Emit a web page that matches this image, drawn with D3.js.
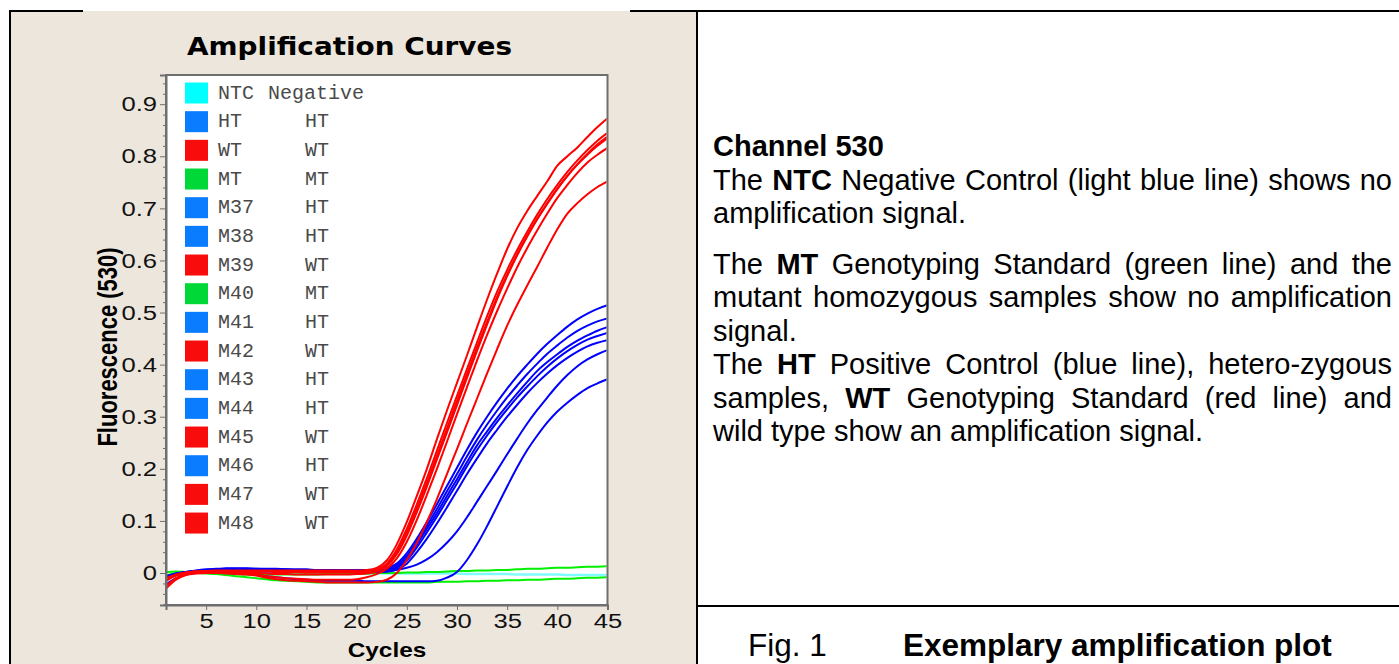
<!DOCTYPE html>
<html><head><meta charset="utf-8">
<script src="https://cdn.jsdelivr.net/npm/d3@7"></script>
<style>html,body{margin:0;padding:0;background:#fff;overflow:hidden}</style>
</head><body>
<svg id="c" width="1399" height="664"></svg>
<script>
// ---------------- DATA ----------------
const cycles = d3.range(1, 46);
const samples   = ["NTC","HT","WT","MT","M37","M38","M39","M40","M41","M42","M43","M44","M45","M46","M47","M48"];
const genotypes = ["Negative","HT","WT","MT","HT","HT","WT","MT","HT","WT","HT","HT","WT","HT","WT","WT"];

const ntc = [-0.012,-0.004,0,0.001,0.001,0.001,0,0,0,0,
  0,0,0,0,-0.001,-0.001,-0.001,-0.001,-0.001,-0.001,
  -0.001,-0.001,-0.001,-0.001,-0.001,-0.001,-0.001,-0.001,-0.001,-0.001,
  -0.002,-0.002,-0.002,-0.002,-0.002,-0.003,-0.003,-0.003,-0.003,-0.003,
  -0.004,-0.004,-0.004,-0.004,-0.004];
const ht = [-0.008,-0.002,0.002,0.005,0.007,0.008,0.009,0.009,0.009,0.008,
  0.008,0.008,0.007,0.007,0.007,0.006,0.006,0.006,0.006,0.006,
  0.006,0.006,0.009,0.018,0.038,0.066,0.098,0.132,0.167,0.202,
  0.237,0.27,0.3,0.328,0.354,0.378,0.4,0.421,0.44,0.457,
  0.473,0.487,0.498,0.507,0.514];
const wt = [-0.015,-0.005,0,0.003,0.004,0.005,0.005,0.005,0.005,0.005,
  0.005,0.005,0.005,0.005,0.005,0.005,0.005,0.005,0.005,0.005,
  0.006,0.01,0.024,0.055,0.098,0.148,0.2,0.257,0.312,0.365,
  0.418,0.472,0.525,0.575,0.622,0.662,0.695,0.724,0.752,0.782,
  0.8,0.817,0.837,0.856,0.873];
const mt = [0.002,0.003,0.002,0.001,0,-0.001,-0.002,-0.002,-0.003,-0.003,
  -0.003,-0.003,-0.003,-0.003,-0.003,-0.003,-0.002,-0.002,-0.002,-0.002,
  -0.001,0,0,0,0.001,0.001,0.002,0.002,0.003,0.004,
  0.004,0.005,0.005,0.006,0.006,0.007,0.008,0.008,0.009,0.01,
  0.01,0.011,0.012,0.012,0.013];
const m37 = [-0.01,-0.003,0.001,0.004,0.006,0.007,0.007,0.007,0.007,0.007,
  0.007,0.006,0.006,0.006,0.006,0.006,0.005,0.005,0.005,0.005,
  0.005,0.005,0.007,0.015,0.033,0.06,0.091,0.123,0.157,0.19,
  0.224,0.256,0.285,0.312,0.337,0.36,0.382,0.402,0.421,0.437,
  0.452,0.465,0.475,0.483,0.489];
const m38 = [-0.006,-0.001,0.002,0.004,0.005,0.006,0.006,0.006,0.006,0.006,
  0.006,0.006,0.005,0.005,0.005,0.005,0.005,0.005,0.004,0.004,
  0.004,0.004,0.006,0.012,0.028,0.055,0.085,0.115,0.148,0.18,
  0.213,0.245,0.272,0.298,0.322,0.345,0.367,0.388,0.405,0.42,
  0.434,0.446,0.456,0.465,0.472];
const m39 = [-0.012,-0.004,0.001,0.003,0.004,0.004,0.004,0.004,0.004,0.004,
  0.004,0.004,0.004,0.004,0.004,0.004,0.004,0.004,0.004,0.004,
  0.004,0.007,0.018,0.045,0.085,0.132,0.182,0.235,0.288,0.34,
  0.392,0.443,0.493,0.54,0.582,0.62,0.655,0.688,0.718,0.745,
  0.77,0.792,0.812,0.83,0.845];
const m40 = [-0.005,0,0.001,0,-0.001,-0.002,-0.004,-0.006,-0.008,-0.01,
  -0.012,-0.014,-0.015,-0.016,-0.017,-0.018,-0.018,-0.018,-0.018,-0.018,
  -0.018,-0.018,-0.018,-0.018,-0.018,-0.018,-0.018,-0.017,-0.017,-0.017,
  -0.016,-0.016,-0.015,-0.015,-0.014,-0.014,-0.013,-0.013,-0.012,-0.011,
  -0.011,-0.01,-0.009,-0.009,-0.008];
const m41 = [-0.009,-0.002,0.002,0.004,0.006,0.007,0.008,0.008,0.008,0.008,
  0.007,0.007,0.007,0.006,0.006,0.006,0.006,0.005,0.005,0.005,
  0.004,0.004,0.005,0.01,0.024,0.049,0.078,0.108,0.14,0.172,
  0.205,0.236,0.264,0.29,0.314,0.337,0.358,0.378,0.396,0.412,
  0.426,0.438,0.448,0.455,0.461];
const m42 = [-0.01,-0.003,0.001,0.003,0.004,0.004,0.004,0.003,0.003,0.003,
  0.003,0.002,0.002,0.002,0.001,0.001,0.001,0.001,0.001,0.001,
  0.002,0.005,0.015,0.04,0.078,0.124,0.173,0.225,0.277,0.33,
  0.382,0.433,0.482,0.53,0.573,0.612,0.648,0.68,0.71,0.738,
  0.763,0.785,0.805,0.823,0.838];
const m43 = [-0.007,-0.001,0.002,0.003,0.004,0.004,0.004,0.004,0.004,0.003,
  0.003,0.003,0.003,0.002,0.002,0.002,0.002,0.002,0.002,0.002,
  0.002,0.002,0.003,0.007,0.018,0.04,0.066,0.095,0.126,0.158,
  0.19,0.22,0.249,0.275,0.3,0.323,0.345,0.365,0.383,0.399,
  0.413,0.425,0.435,0.442,0.447];
const m44 = [-0.011,-0.003,0.001,0.003,0.004,0.005,0.005,0.005,0.005,0.005,
  0.005,0.005,0.005,0.005,0.004,0.004,0.004,0.004,0.004,0.003,
  0.003,0.003,0.003,0.006,0.01,0.016,0.026,0.04,0.058,0.08,
  0.107,0.137,0.167,0.197,0.228,0.258,0.287,0.313,0.337,0.36,
  0.38,0.397,0.41,0.42,0.428];
const m45 = [-0.013,-0.004,0,0.002,0.003,0.003,0.002,0.002,0.001,0,
  -0.001,-0.002,-0.002,-0.003,-0.003,-0.003,-0.003,-0.003,-0.003,-0.002,
  -0.001,0.003,0.013,0.036,0.072,0.117,0.166,0.218,0.27,0.322,
  0.375,0.427,0.477,0.526,0.57,0.61,0.646,0.679,0.709,0.737,
  0.762,0.784,0.803,0.82,0.835];
const m46 = [-0.022,-0.01,-0.003,0,0.001,0.001,0,-0.001,-0.002,-0.004,
  -0.006,-0.008,-0.01,-0.012,-0.013,-0.014,-0.015,-0.015,-0.015,-0.015,
  -0.016,-0.016,-0.016,-0.016,-0.016,-0.016,-0.016,-0.015,-0.009,0.002,
  0.025,0.055,0.09,0.128,0.166,0.203,0.236,0.264,0.289,0.31,
  0.327,0.342,0.355,0.364,0.372];
const m47 = [-0.025,-0.01,-0.002,0.001,0.002,0.002,0.001,0,-0.001,-0.003,
  -0.006,-0.008,-0.01,-0.011,-0.012,-0.013,-0.013,-0.013,-0.013,-0.012,
  -0.008,-0.002,0.008,0.028,0.06,0.102,0.15,0.2,0.252,0.305,
  0.357,0.408,0.457,0.503,0.546,0.587,0.624,0.658,0.69,0.72,
  0.745,0.768,0.788,0.803,0.816];
const m48 = [-0.03,-0.013,-0.004,-0.001,0,0,-0.001,-0.002,-0.003,-0.005,
  -0.009,-0.012,-0.014,-0.015,-0.016,-0.017,-0.018,-0.018,-0.018,-0.018,
  -0.018,-0.017,-0.013,0,0.025,0.058,0.098,0.142,0.19,0.238,
  0.287,0.335,0.383,0.43,0.475,0.515,0.552,0.588,0.625,0.66,
  0.69,0.71,0.727,0.741,0.752];
const seriesValues = [ntc, ht, wt, mt, m37, m38, m39, m40, m41, m42, m43, m44, m45, m46, m47, m48];

const yTicks = [0, 0.1, 0.2, 0.3, 0.4, 0.5, 0.6, 0.7, 0.8, 0.9];
const xTicks = [5, 10, 15, 20, 25, 30, 35, 40, 45];

const chartTitle = "Amplification Curves";
const xTitle = "Cycles";
const yTitle = "Fluorescence (530)";
const textLines = [
  "**Channel 530**",
  "The **NTC** Negative Control (light blue line) shows no",
  "amplification signal.",
  "The **MT** Genotyping Standard (green line) and the",
  "mutant homozygous samples show no amplification",
  "signal.",
  "The **HT** Positive Control (blue line), hetero-zygous",
  "samples, **WT** Genotyping Standard (red line) and",
  "wild type show an amplification signal."
];
const captionLabel = "Fig. 1";
const captionTitle = "Exemplary amplification plot";

// ---------------- STYLE ----------------
const lineColor = {Negative: "#7ffcff", HT: "#0000ff", WT: "#ff0000", MT: "#00f000"};
const swatchColor = {Negative: "#00ffff", HT: "#0a7cff", WT: "#f80c0c", MT: "#00d838"};
const SX = 1.22;           // horizontal stretch of the chart screenshot
const SANS = "'Liberation Sans', Arial, Helvetica, sans-serif";
const MONO = "'Liberation Mono', 'Courier New', monospace";
const beige = "#ede6dc";

const svg = d3.select("#c");
svg.append("rect").attr("width", 1399).attr("height", 664).attr("fill", "#fff");

// left cell
svg.append("rect").attr("x", 11).attr("y", 11).attr("width", 686).attr("height", 653).attr("fill", beige);
// borders
const border = svg.append("g").attr("stroke", "#000").attr("stroke-width", 2).attr("fill", "none");
border.append("line").attr("x1", 9).attr("x2", 83).attr("y1", 11).attr("y2", 11);
border.append("line").attr("x1", 630).attr("x2", 1399).attr("y1", 11).attr("y2", 11);
border.append("line").attr("x1", 10).attr("x2", 10).attr("y1", 10).attr("y2", 664);
border.append("line").attr("x1", 697).attr("x2", 697).attr("y1", 10).attr("y2", 664);
border.append("line").attr("x1", 697).attr("x2", 1399).attr("y1", 606).attr("y2", 606);

function stext(parent, x, y, str, o = {}) {
  const sx = o.sx === undefined ? SX : o.sx;
  return parent.append("text")
    .attr("transform", `translate(${x},${y}) scale(${sx},1)` + (o.rot ? ` rotate(${o.rot})` : ""))
    .attr("font-family", o.family || SANS)
    .attr("font-size", o.size || 20)
    .attr("font-weight", o.weight || "normal")
    .attr("text-anchor", o.anchor || "start")
    .attr("fill", o.fill || "#000")
    .text(str);
}

// ---------------- CHART ----------------
const L = 166, R = 607.5, T = 75, B = 605;
const x = d3.scaleLinear().domain([1, 45]).range([L, R]);
const y = d3.scaleLinear().domain([-0.0614, 0.956]).range([B, T]);
const yMinorTicks = d3.range(-3, 48).map(d => d * 0.02)
  .filter(v => v >= y.domain()[0] && v <= y.domain()[1] && yTicks.every(t => Math.abs(t - v) > 1e-6));

svg.append("text").attr("x", 349.5).attr("y", 55)
  .attr("font-family", "'DejaVu Sans', sans-serif").attr("font-weight", "bold").attr("font-size", 24)
  .attr("text-anchor", "middle").attr("textLength", 325).attr("lengthAdjust", "spacingAndGlyphs")
  .attr("fill", "#000").text(chartTitle);

svg.append("rect").attr("x", L).attr("y", T).attr("width", R - L).attr("height", B - T).attr("fill", "#fff");

svg.append("clipPath").attr("id", "clip").append("rect")
  .attr("x", L + 1).attr("y", T + 1).attr("width", R - L - 2).attr("height", B - T - 2);

// legend
const leg = svg.append("g");
const rowY = i => 93 + i * 28.67;
samples.forEach((s, i) => {
  const g = genotypes[i];
  leg.append("rect").attr("x", 185).attr("y", rowY(i) - 10.5).attr("width", 23).attr("height", 21)
    .attr("fill", swatchColor[g]);
  stext(leg, 218, rowY(i) + 5.5, s, {family: MONO, size: 20, sx: 1, fill: "#4a4a4a"});
  stext(leg, g === "Negative" ? 268 : 305, rowY(i) + 5.5, g, {family: MONO, size: 20, sx: 1, fill: "#4a4a4a"});
});

// curves
const line = d3.line().x((d, i) => x(cycles[i])).y(d => y(d)).curve(d3.curveMonotoneX);
const curves = svg.append("g").attr("clip-path", "url(#clip)");
const order = [0, 3, 7, 1, 4, 5, 8, 10, 11, 13, 2, 6, 9, 12, 14, 15];
order.forEach(i => {
  curves.append("path").attr("d", line(seriesValues[i]))
    .attr("fill", "none").attr("stroke", lineColor[genotypes[i]])
    .attr("stroke-width", genotypes[i] === "Negative" ? 2.5 : 2)
    .attr("stroke-linejoin", "round");
});

// frame
svg.append("rect").attr("x", L).attr("y", T).attr("width", R - L).attr("height", B - T)
  .attr("fill", "none").attr("stroke", "#6f6f6f").attr("stroke-width", 2);

// axes
const axisCol = "#6f6f6f";
const yAxis = svg.append("g").attr("transform", `translate(${L},0)`)
  .call(d3.axisLeft(y).tickValues(yTicks).tickSize(6).tickPadding(3)
    .tickFormat(v => v === 0 ? "0" : v.toFixed(1)));
svg.append("g").attr("transform", `translate(${L},0)`)
  .call(d3.axisLeft(y).tickValues(yMinorTicks).tickSize(3).tickFormat(""))
  .call(g => g.select(".domain").remove())
  .selectAll("line").attr("stroke", axisCol);
const xAxis = svg.append("g").attr("transform", `translate(0,${B})`)
  .call(d3.axisBottom(x).tickValues(xTicks).tickSize(5).tickPadding(3));
[yAxis, xAxis].forEach(a => {
  a.select(".domain").attr("stroke", axisCol).attr("stroke-width", 2);
  a.selectAll(".tick line").attr("stroke", axisCol);
  a.selectAll(".tick text").attr("font-family", SANS).attr("font-size", 21).attr("fill", "#111");
});
yAxis.selectAll(".tick text").each(function () {
  const t = d3.select(this);
  const xx = +t.attr("x");
  t.attr("x", xx / SX).attr("transform", `scale(${SX},1)`);
});
xAxis.selectAll(".tick text").attr("transform", `scale(${SX},1)`);

stext(svg, 387, 657, xTitle, {size: 20, weight: "bold", anchor: "middle"});
stext(svg, 117, 347, yTitle, {size: 22, weight: "bold", anchor: "middle", rot: -90});

// ---------------- RIGHT TEXT ----------------
const tx0 = 713, tx1 = 1392, fs = 29;
const lineYs = [156, 189.5, 223, 273.5, 307, 340.5, 374, 407.5, 441];
const justify = [false, true, false, true, true, false, true, true, false];
const txt = svg.append("g");
textLines.forEach((ln, li) => {
  const merged = [];
  let inBold = false;
  ln.split(" ").forEach(w => {
    const start = w.startsWith("**"), end = w.endsWith("**");
    const clean = w.replace(/\*\*/g, "");
    const bold = start || inBold;
    merged.push({w: clean, bold});
    if (start && !end) inBold = true;
    if (end) inBold = false;
  });
  const els = merged.map(m => stext(txt, 0, lineYs[li], m.w, {size: fs, sx: 1, weight: m.bold ? "bold" : "normal"}));
  const widths = els.map(e => e.node().getComputedTextLength());
  const sum = d3.sum(widths);
  const space = 0.278 * fs;
  const gap = justify[li] && merged.length > 1 ? (tx1 - tx0 - sum) / (merged.length - 1) : space;
  let cx = tx0;
  els.forEach((e, k) => {
    e.attr("transform", `translate(${cx},${lineYs[li]})`);
    cx += widths[k] + gap;
  });
});
stext(svg, 748, 656, captionLabel, {size: 31.5, sx: 1});
stext(svg, 903, 656, captionTitle, {size: 31.5, sx: 1, weight: "bold"});
</script>
</body></html>
